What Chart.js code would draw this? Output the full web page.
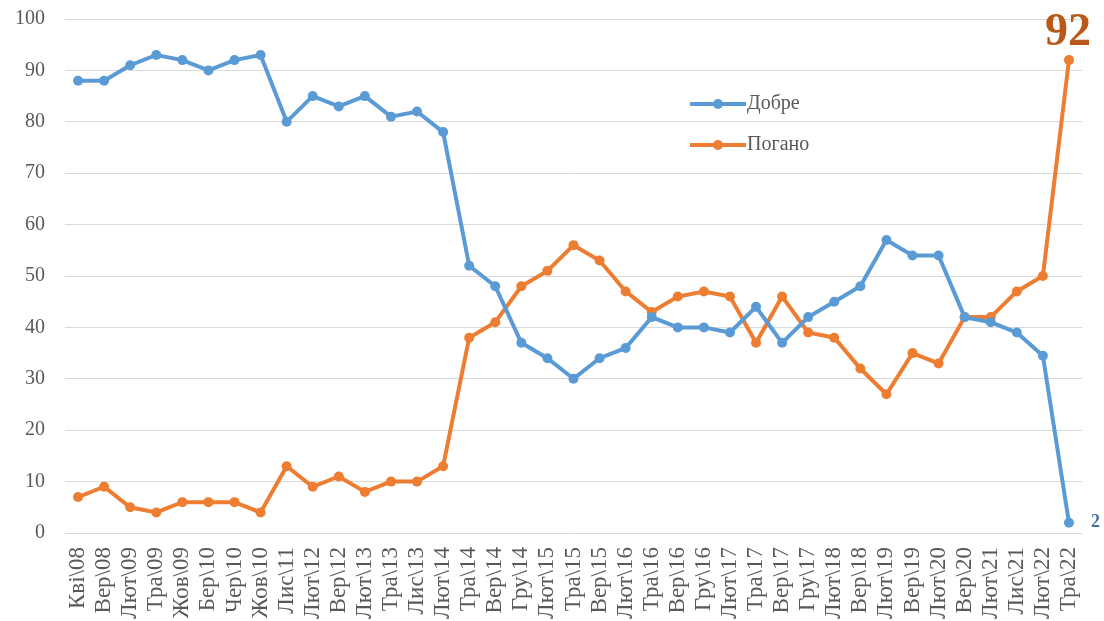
<!DOCTYPE html>
<html>
<head>
<meta charset="utf-8">
<script src="https://cdn.jsdelivr.net/npm/chart.js@4/dist/chart.umd.min.js"></script>
<style>
  html, body { margin: 0; padding: 0; background: #fff; }
  #wrap { width: 1104px; height: 621px; position: relative; }
</style>
</head>
<body>
<div id="wrap"><canvas id="c"></canvas></div>
<script>
// survey waves
const labels = ['Кві\\08','Вер\\08','Лют\\09','Тра\\09','Жов\\09','Бер\\10','Чер\\10','Жов\\10','Лис\\11','Лют\\12',
  'Вер\\12','Лют\\13','Тра\\13','Лис\\13','Лют\\14','Тра\\14','Вер\\14','Гру\\14','Лют\\15','Тра\\15',
  'Вер\\15','Лют\\16','Тра\\16','Вер\\16','Гру\\16','Лют\\17','Тра\\17','Вер\\17','Гру\\17','Лют\\18',
  'Вер\\18','Лют\\19','Вер\\19','Лют\\20','Вер\\20','Лют\\21','Лис\\21','Лют\\22','Тра\\22'];

const good = [88, 88, 91, 93, 92, 90, 92, 93, 80, 85,
  83, 85, 81, 82, 78, 52, 48, 37, 34, 30,
  34, 36, 42, 40, 40, 39, 44, 37, 42, 45,
  48, 57, 54, 54, 42, 41, 39, 34.5, 2];

const bad = [7, 9, 5, 4, 6, 6, 6, 4, 13, 9,
  11, 8, 10, 10, 13, 38, 41, 48, 51, 56,
  53, 47, 43, 46, 47, 46, 37, 46, 39, 38,
  32, 27, 35, 33, 42, 42, 47, 50, 92];

const BLUE = '#5b9bd5', ORANGE = '#ed7d31';
const GREY = '#595959';
const SERIF = '"Liberation Serif", "DejaVu Serif", serif';

// legend drawn inside the plot + last-value labels
const extras = {
  id: 'extras',
  afterDatasetsDraw(chart) {
    const ctx = chart.ctx;
    const xs = chart.scales.x, ys = chart.scales.y;
    ctx.save();
    // legend
    [['Добре', BLUE, 104], ['Погано', ORANGE, 145]].forEach(([txt, col, y]) => {
      ctx.strokeStyle = col; ctx.lineWidth = 4;
      ctx.beginPath(); ctx.moveTo(690, y); ctx.lineTo(746, y); ctx.stroke();
      ctx.fillStyle = col;
      ctx.beginPath(); ctx.arc(718, y, 5, 0, Math.PI * 2); ctx.fill();
      ctx.fillStyle = GREY; ctx.font = '20px ' + SERIF;
      ctx.textAlign = 'left'; ctx.textBaseline = 'middle';
      ctx.fillText(txt, 747, y);
    });
    // value labels on the last wave
    const li = labels.length - 1;
    const lx = xs.getPixelForValue(li);
    ctx.fillStyle = '#b95a1b';
    ctx.font = 'bold 46px ' + SERIF;
    ctx.textAlign = 'center'; ctx.textBaseline = 'alphabetic';
    ctx.fillText(String(bad[li]), lx - 1, ys.getPixelForValue(bad[li]) - 15);
    ctx.fillStyle = '#40719f';
    ctx.font = 'bold 18px ' + SERIF;
    ctx.textAlign = 'left'; ctx.textBaseline = 'middle';
    ctx.fillText(String(good[li]), lx + 22, ys.getPixelForValue(good[li]));
    ctx.restore();
  }
};

new Chart(document.getElementById('c').getContext('2d'), {
  type: 'line',
  data: {
    labels,
    datasets: [
      { label: 'Добре',  data: good, borderColor: BLUE,   backgroundColor: BLUE,   borderWidth: 4, pointRadius: 5, pointBorderWidth: 0, tension: 0, fill: false },
      { label: 'Погано', data: bad,  borderColor: ORANGE, backgroundColor: ORANGE, borderWidth: 4, pointRadius: 5, pointBorderWidth: 0, tension: 0, fill: false },
    ]
  },
  options: {
    responsive: true, maintainAspectRatio: false, animation: false,
    layout: { padding: { top: 19, right: 22, left: 0, bottom: 0 }, autoPadding: false },
    plugins: { legend: { display: false }, tooltip: { enabled: false } },
    scales: {
      x: {
        offset: true,
        grid: { display: false, drawTicks: false },
        border: { display: false },
        ticks: { color: GREY, font: { size: 23, family: SERIF, lineHeight: 1 }, minRotation: 90, maxRotation: 90, autoSkip: false, padding: 14 },
        afterFit: a => { a.height = 88; a.paddingLeft = 0; a.paddingRight = 0; }
      },
      y: {
        min: 0, max: 100,
        grid: { color: '#d9d9d9', lineWidth: 1, drawTicks: false },
        border: { display: false },
        ticks: { stepSize: 10, color: GREY, font: { size: 20, family: SERIF }, padding: 20 },
        afterFit: a => { a.width = 65; a.paddingTop = 0; a.paddingBottom = 0; }
      }
    }
  },
  plugins: [extras]
});
</script>
</body>
</html>
